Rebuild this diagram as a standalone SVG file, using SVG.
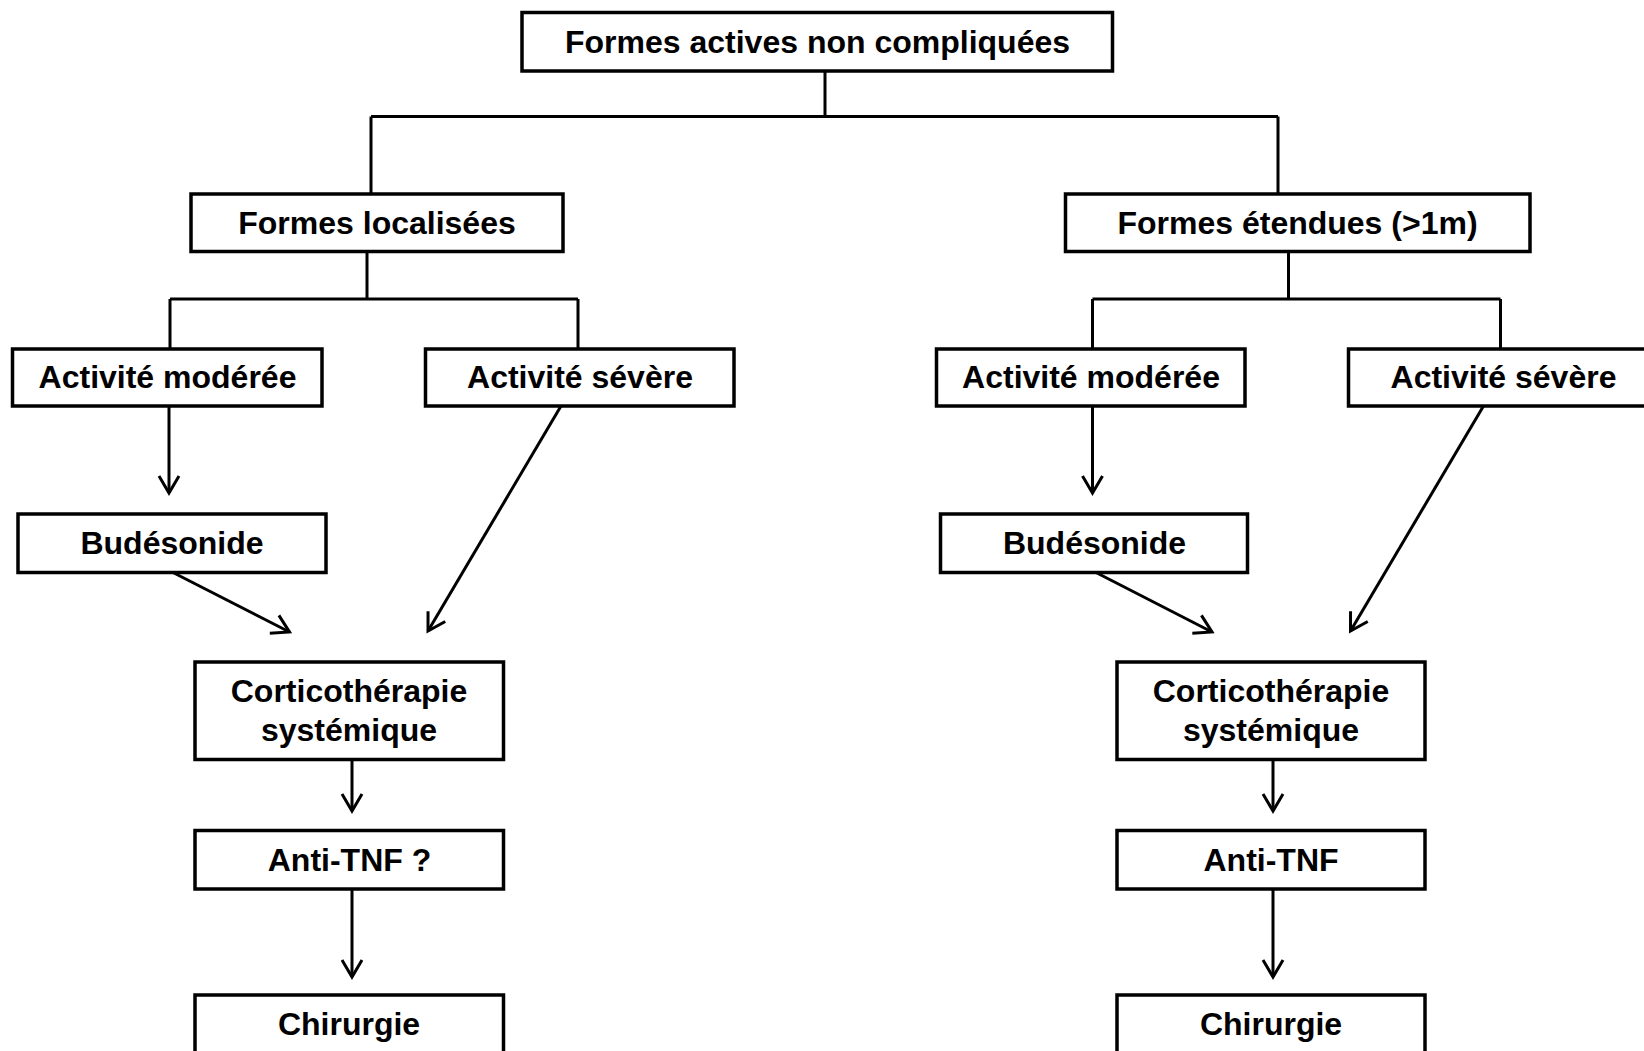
<svg xmlns="http://www.w3.org/2000/svg" width="1644" height="1051" viewBox="0 0 1644 1051">
<style>
.box{fill:#fff;stroke:#000;stroke-width:3.5}
.t{font-family:"Liberation Sans",Arial,sans-serif;font-weight:bold;font-size:32px;fill:#000;text-anchor:middle}
.ln{fill:none;stroke:#000;stroke-width:3}
.ar{fill:none;stroke:#000;stroke-width:3;marker-end:url(#ah)}
</style>
<defs>
<marker id="ah" markerUnits="userSpaceOnUse" viewBox="0 0 20 24" markerWidth="20" markerHeight="24" refX="18" refY="12" orient="auto" overflow="visible">
<path d="M1,2 L18,12 L1,22" fill="none" stroke="#000" stroke-width="3"/>
</marker>
</defs>
<rect width="1644" height="1051" fill="#fff"/>
<g id="connectors">
<path class="ln" d="M825,71 V116.5 M371,116.5 H1278 M371,116.5 V194 M1278,116.5 V194"/>
<path class="ln" d="M367,251.5 V299 M170,299 H578 M170,299 V349 M578,299 V349"/>
<path class="ln" d="M1288.5,251.5 V299 M1092.5,299 H1500.5 M1092.5,299 V349 M1500.5,299 V349"/>
<path class="ar" d="M169,406 V493"/>
<path class="ar" d="M173,572.5 L289.5,632"/>
<path class="ar" d="M561,406 L428,631"/>
<path class="ar" d="M352,759 V811"/>
<path class="ar" d="M352,889 V977"/>
<path class="ar" d="M1092.5,406 V493"/>
<path class="ar" d="M1096,572.5 L1212,632"/>
<path class="ar" d="M1483.5,406 L1350.5,631"/>
<path class="ar" d="M1273,759 V811"/>
<path class="ar" d="M1273,889 V977"/>
</g>
<g id="n-top"><rect class="box" x="522" y="12.5" width="590.5" height="58.5"/><text class="t" x="817.5" y="53">Formes actives non compliquées</text></g>
<g id="n-loc"><rect class="box" x="191" y="194" width="372" height="57.5"/><text class="t" x="377" y="234">Formes localisées</text></g>
<g id="n-ext"><rect class="box" x="1065.5" y="194" width="464.5" height="57.5"/><text class="t" x="1297.5" y="234">Formes étendues (&gt;1m)</text></g>
<g id="n-lmod"><rect class="box" x="12.5" y="349" width="309.5" height="57"/><text class="t" x="167.5" y="388">Activité modérée</text></g>
<g id="n-lsev"><rect class="box" x="425.5" y="349" width="308.5" height="57"/><text class="t" x="580" y="388">Activité sévère</text></g>
<g id="n-rmod"><rect class="box" x="936.5" y="349" width="308.5" height="57"/><text class="t" x="1091" y="388">Activité modérée</text></g>
<g id="n-rsev"><rect class="box" x="1348.5" y="349" width="312" height="57"/><text class="t" x="1503.5" y="388">Activité sévère</text></g>
<g id="n-lbud"><rect class="box" x="18" y="514" width="308" height="58.5"/><text class="t" x="172" y="554">Budésonide</text></g>
<g id="n-rbud"><rect class="box" x="940.5" y="514" width="307" height="58.5"/><text class="t" x="1094.5" y="554">Budésonide</text></g>
<g id="n-lcor"><rect class="box" x="195" y="662" width="308.5" height="97.5"/><text class="t" x="349" y="701.5">Corticothérapie</text><text class="t" x="349" y="740.5">systémique</text></g>
<g id="n-rcor"><rect class="box" x="1117" y="662" width="308" height="97.5"/><text class="t" x="1271" y="701.5">Corticothérapie</text><text class="t" x="1271" y="740.5">systémique</text></g>
<g id="n-ltnf"><rect class="box" x="195" y="830.5" width="308.5" height="58.5"/><text class="t" x="349.5" y="870.5">Anti-TNF ?</text></g>
<g id="n-rtnf"><rect class="box" x="1117" y="830.5" width="308" height="58.5"/><text class="t" x="1271" y="870.5">Anti-TNF</text></g>
<g id="n-lchi"><rect class="box" x="195" y="995" width="308.5" height="80"/><text class="t" x="349" y="1035">Chirurgie</text></g>
<g id="n-rchi"><rect class="box" x="1117" y="995" width="308" height="80"/><text class="t" x="1271" y="1035">Chirurgie</text></g>
</svg>
